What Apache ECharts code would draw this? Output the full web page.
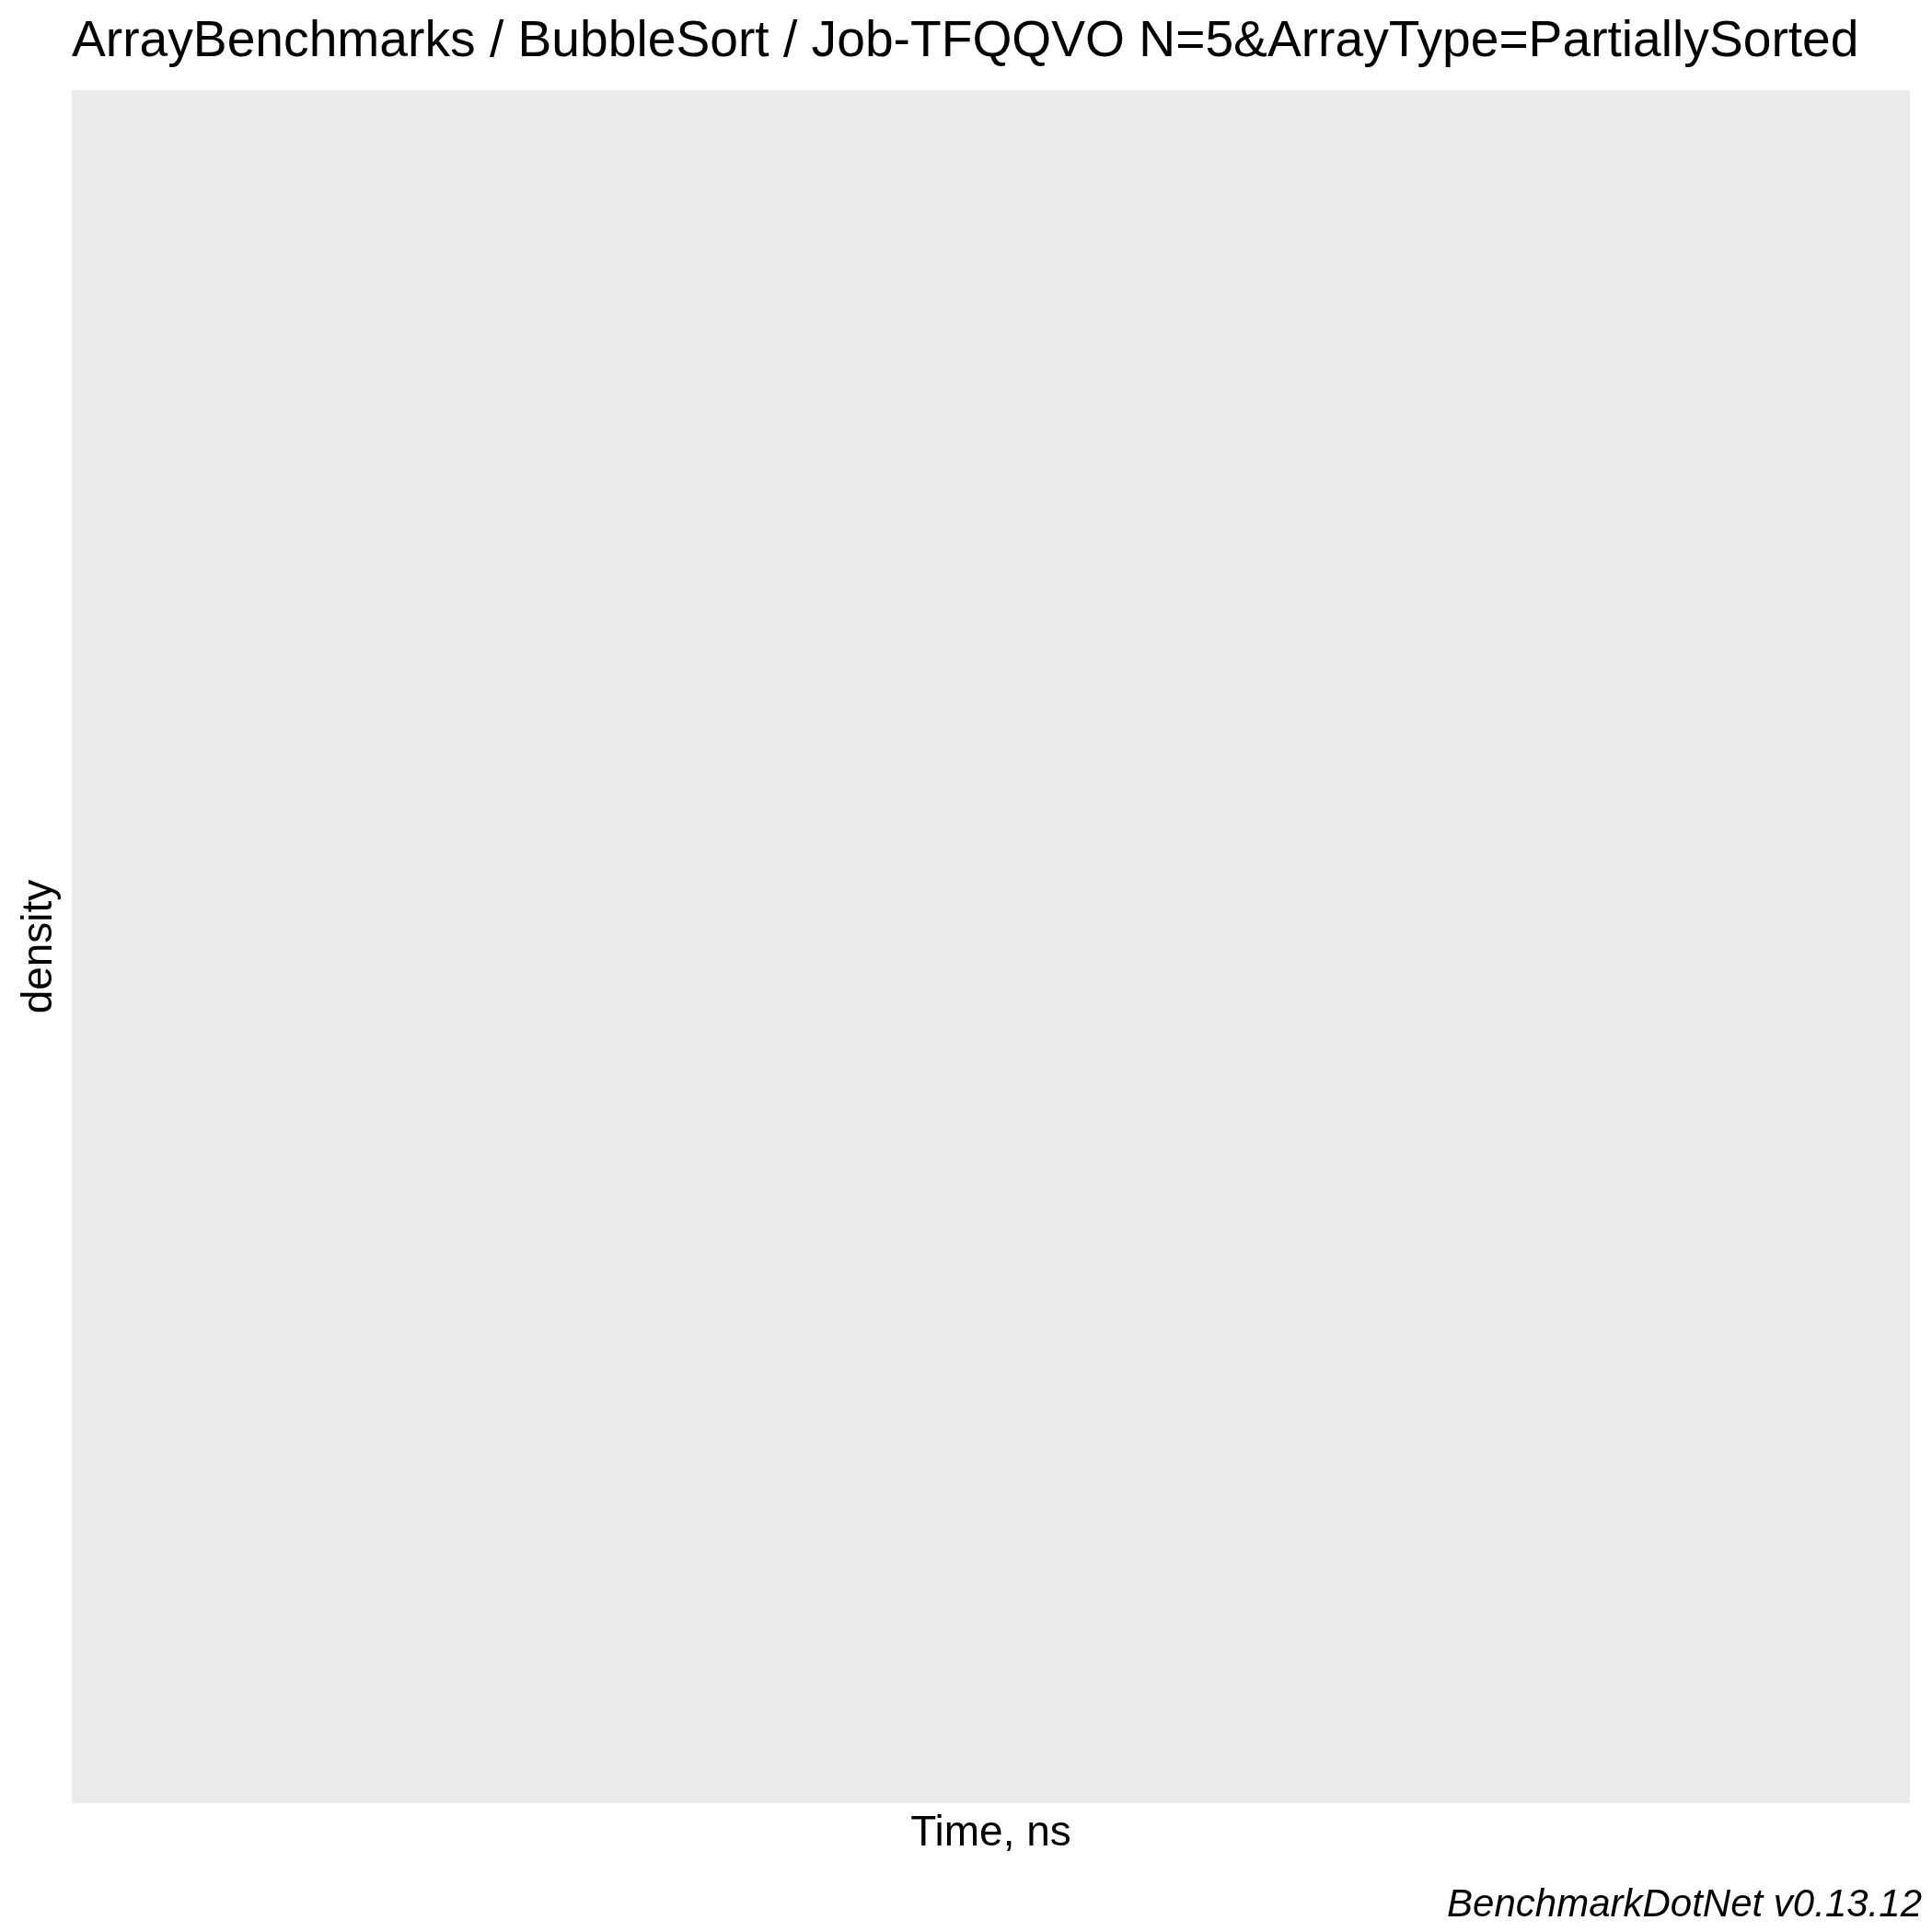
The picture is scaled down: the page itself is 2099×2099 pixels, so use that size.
<!DOCTYPE html>
<html>
<head>
<meta charset="utf-8">
<script src="https://cdn.jsdelivr.net/npm/echarts@6/dist/echarts.min.js"></script>
<style>
html,body{margin:0;padding:0;background:#fff;}
#chart{width:2099px;height:2099px;}
</style>
</head>
<body>
<div id="chart"></div>
<script>
// The reference plot contains no data: an empty density panel.
var chartTitle = "ArrayBenchmarks / BubbleSort / Job-TFQQVO N=5&ArrayType=PartiallySorted";
var captionText = "BenchmarkDotNet v0.13.12";
var xAxisTitle = "Time, ns";
var yAxisTitle = "density";
var timeValues = [];     // x values (none in the reference)
var densityValues = [];  // y values (none in the reference)

var seriesData = timeValues.map(function (t, i) { return [t, densityValues[i]]; });

var FONT = "'Liberation Sans', Arial, sans-serif";
var chart = echarts.init(document.getElementById('chart'), null, {renderer: 'canvas'});
chart.setOption({
  backgroundColor: '#ffffff',
  animation: false,
  title: [
    {
      text: chartTitle,
      left: 73,
      top: 13,
      textStyle: {fontFamily: FONT, fontSize: 55.2, fontWeight: 'normal', color: '#000000'}
    },
    {
      text: captionText,
      right: 6,
      bottom: 3,
      textStyle: {fontFamily: FONT, fontSize: 42, fontStyle: 'italic', fontWeight: 'normal', color: '#000000'}
    }
  ],
  grid: {
    left: 78, top: 98, right: 24, bottom: 140,
    show: true, backgroundColor: '#EBEBEB', borderWidth: 0
  },
  xAxis: {
    type: 'value',
    name: xAxisTitle,
    nameLocation: 'middle',
    nameGap: 10,
    nameTextStyle: {fontFamily: FONT, fontSize: 46, color: '#000000'},
    axisLine: {show: false}, axisTick: {show: false}, axisLabel: {show: false},
    splitLine: {show: false}
  },
  yAxis: {
    type: 'value',
    name: yAxisTitle,
    nameLocation: 'middle',
    nameGap: 12,
    nameTextStyle: {fontFamily: FONT, fontSize: 46, color: '#000000'},
    axisLine: {show: false}, axisTick: {show: false}, axisLabel: {show: false},
    splitLine: {show: false}
  },
  series: [{
    type: 'line',
    data: seriesData,
    showSymbol: false
  }]
});
</script>
</body>
</html>
